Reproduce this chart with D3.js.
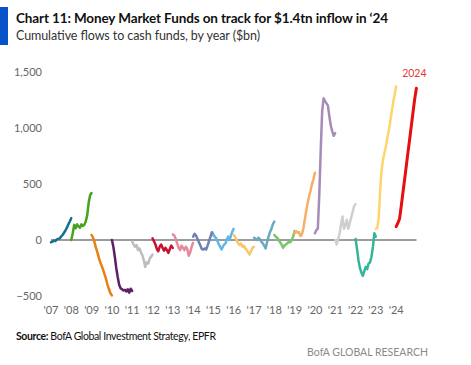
<!DOCTYPE html>
<html lang="en">
<head>
    <meta charset="utf-8">
    <script src="https://d3js.org/d3.v7.min.js"></script>
    <style>
        html, body {
            margin: 0;
            padding: 0;
            background: white;
            overflow: hidden;
        }

        svg {
            display: block;
            font-family: Lato, 'Open Sans', sans-serif;
        }

        .tick-label {
            font-size: 11px;
            fill: #666;
        }
    </style>
</head>
<body>
<svg width="471" height="365"></svg>
<script>

    // one short series per calendar year, values in $bn, read along the year
    var years = [2007, 2008, 2009, 2010, 2011, 2012, 2013, 2014, 2015, 2016, 2017, 2018, 2019, 2020, 2021, 2022, 2023, 2024];

    var flows2007 = [-20, -15, -5, -10, 5, 10, 15, 30, 45, 65, 85, 110, 140, 165, 195];
    var flows2008 = [0, 60, 135, 105, 140, 120, 110, 140, 125, 135, 165, 220, 330, 400, 420];
    var flows2009 = [45, 20, -20, -70, -110, -160, -200, -230, -270, -310, -350, -400, -440, -475, -495];
    var flows2010 = [0, -60, -150, -250, -330, -400, -430, -440, -450, -445, -460, -440, -470, -435, -455];
    var flows2011 = [-15, -40, -60, -45, -90, -75, -110, -135, -180, -240, -200, -210, -170, -150, -130];
    var flows2012 = [15, -10, -40, -80, -100, -60, -40, -70, -95, -70, -90, -115, -80, -50, -70];
    var flows2013 = [50, 40, 10, -30, -70, -90, -50, -70, -90, -60, -80, -140, -110, -60, -25];
    var flows2014 = [30, 55, 40, 10, -20, -50, -80, -85, -75, -85, -50, -10, 30, 70, 45];
    var flows2015 = [45, 30, 15, -10, -40, -60, -85, -60, -40, -30, 10, 30, 0, 40, 75, 100];
    var flows2016 = [45, 30, 0, -30, -45, -30, -60, -50, -75, -90, -110, -130, -100, -70, -60];
    var flows2017 = [20, 10, 0, 20, 10, -15, -30, -50, -75, -20, 30, 70, 100, 140, 165];
    var flows2018 = [45, 30, 20, 0, -20, -40, -70, -50, -40, -30, -15, -20, 0, 30, 80];
    var flows2019 = [60, 80, 65, 70, 35, 50, 100, 180, 260, 330, 390, 440, 500, 540, 600];
    var flows2020 = [60, 90, 100, 400, 800, 1150, 1265, 1240, 1220, 1200, 1100, 1020, 970, 930, 955];
    var flows2021 = [0, -40, 10, 60, 140, 210, 100, 130, 180, 100, 150, 200, 250, 300, 320];
    var flows2022 = [10, -80, -180, -250, -290, -320, -280, -240, -260, -210, -200, -150, -60, 60, 30];
    var flows2023 = [100, 110, 200, 450, 630, 720, 780, 840, 920, 980, 1060, 1150, 1230, 1300, 1370];
    var flows2024 = [120, 150, 190, 300, 420, 540, 660, 780, 900, 1020, 1140, 1260, 1355];

    var yearColors = ['#17708c', '#44a41c', '#ea7f10', '#5d2068', '#bdbdbd', '#c5122f', '#e38b9b',
        '#6d80b5', '#62b6e6', '#f6c86c', '#6aa9bf', '#7cc46b', '#f7ae66', '#a78bb8', '#cfcfcf',
        '#34b59b', '#fdd56b', '#e60f0f'];

    var yTicks = [-500, 0, 500, 1000, 1500];

    var allFlows = [flows2007, flows2008, flows2009, flows2010, flows2011, flows2012, flows2013, flows2014,
        flows2015, flows2016, flows2017, flows2018, flows2019, flows2020, flows2021, flows2022, flows2023, flows2024];

    var series = years.map(function (yr, k) {
        var vals = allFlows[k];
        return {
            year: yr,
            color: yearColors[k],
            points: vals.map(function (v, i) {
                return {date: new Date(yr, 0, 1 + Math.round(i * 364 / (vals.length - 1))), value: v};
            })
        };
    });

    var svg = d3.select('svg');

    var x = d3.scaleTime()
        .domain([new Date(2007, 0, 1), new Date(2025, 0, 1)])
        .range([51, 416.5]);

    var y = d3.scaleLinear()
        .domain([-500, 1500])
        .range([296, 72]);

    // header
    svg.append('rect')
        .attr('x', 0).attr('y', 7)
        .attr('width', 8).attr('height', 38)
        .attr('fill', '#0a52c9');

    svg.append('text')
        .attr('x', 16).attr('y', 23)
        .attr('font-size', 13.5)
        .attr('font-weight', 'bold')
        .attr('fill', '#111')
        .attr('textLength', 372)
        .text('Chart 11: Money Market Funds on track for $1.4tn inflow in \u201824');

    svg.append('text')
        .attr('x', 16).attr('y', 40)
        .attr('font-size', 12.5)
        .attr('fill', '#333')
        .attr('textLength', 244)
        .text('Cumulative flows to cash funds, by year ($bn)');

    // y labels
    svg.append('g')
        .selectAll('text')
        .data(yTicks)
        .join('text')
        .attr('class', 'tick-label')
        .attr('x', 42)
        .attr('y', function (d) {
            return y(d) + 4;
        })
        .attr('text-anchor', 'end')
        .text(function (d) {
            return d3.format(',')(d);
        });

    // x labels
    svg.append('g')
        .selectAll('text')
        .data(years)
        .join('text')
        .attr('class', 'tick-label')
        .attr('x', function (d) {
            return x(new Date(d, 0, 1));
        })
        .attr('y', 314)
        .attr('text-anchor', 'middle')
        .text(function (d) {
            return '\'' + String(d).slice(2);
        });

    // zero line
    svg.append('line')
        .attr('x1', x(new Date(2007, 0, 1)))
        .attr('x2', x(new Date(2025, 0, 1)))
        .attr('y1', y(0)).attr('y2', y(0))
        .attr('stroke', '#3a3a3a')
        .attr('stroke-width', 1);

    var line = d3.line()
        .x(function (d) {
            return x(d.date);
        })
        .y(function (d) {
            return y(d.value);
        });

    svg.append('g')
        .selectAll('path')
        .data(series)
        .join('path')
        .attr('d', function (d) {
            return line(d.points);
        })
        .attr('fill', 'none')
        .attr('stroke', function (d) {
            return d.color;
        })
        .attr('stroke-width', function (d) {
            return d.year === 2024 ? 3 : 2.5;
        })
        .attr('stroke-linejoin', 'round')
        .attr('stroke-linecap', 'round');

    var last = series[series.length - 1];
    var lastPt = last.points[last.points.length - 1];
    svg.append('text')
        .attr('x', x(lastPt.date) - 2)
        .attr('y', y(lastPt.value) - 11)
        .attr('text-anchor', 'middle')
        .attr('font-size', 10.5)
        .attr('fill', '#e8383a')
        .text('2024');

    // footer
    var src = svg.append('text')
        .attr('x', 16).attr('y', 340)
        .attr('font-size', 10.5)
        .attr('fill', '#111')
        .attr('textLength', 200);
    src.append('tspan').attr('font-weight', 'bold').text('Source:');
    src.append('tspan').text(' BofA Global Investment Strategy, EPFR');

    svg.append('text')
        .attr('x', 428).attr('y', 356)
        .attr('text-anchor', 'end')
        .attr('font-size', 10.5)
        .attr('fill', '#8a8a8a')
        .text('BofA GLOBAL RESEARCH');

</script>
</body>
</html>
